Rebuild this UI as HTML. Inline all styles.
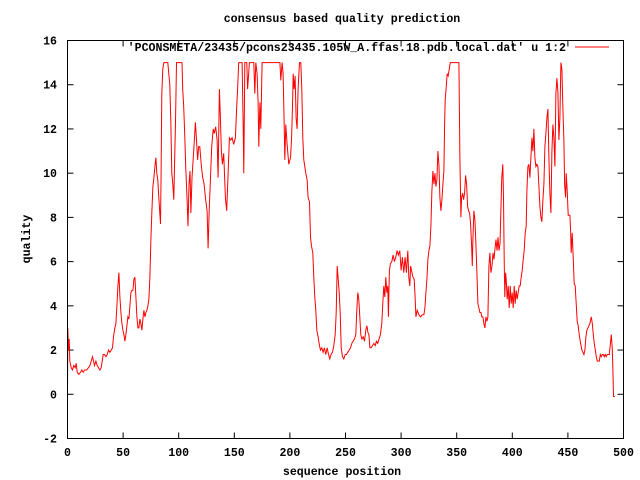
<!DOCTYPE html>
<html><head><meta charset="utf-8"><style>
html,body{margin:0;padding:0;background:#fff;}
svg{display:block;}
text{font-family:"Liberation Mono",monospace;font-size:11.6px;font-weight:bold;fill:#000;}
</style></head><body>
<svg id="chart" width="640" height="480" viewBox="0 0 640 480">
<rect width="640" height="480" fill="#fff"/>
<text x="342" y="22" text-anchor="middle">consensus based quality prediction</text>
<text x="342" y="475" text-anchor="middle">sequence position</text>
<text x="30" y="239" text-anchor="middle" transform="rotate(-90 30 239)">quality</text>
<g id="axes"></g>
<g id="series"></g>
<g>
<text x="566" y="51" text-anchor="end">'PCONSMETA/23435/pcons23435.105W_A.ffas.18.pdb.local.dat' u 1:2</text>
<line x1="575" y1="47" x2="609" y2="47" stroke="#f00" stroke-width="1"/>
</g>
<rect x="67.5" y="40.5" width="556" height="398" fill="none" stroke="#000" stroke-width="1"/>
</svg>
<script>
const xTicks=[0,50,100,150,200,250,300,350,400,450,500];
const yTicks=[-2,0,2,4,6,8,10,12,14,16];
const posX=[0,0.3,0.9,1.5,2.1,3.3,4.5,5.7,6.9,7.8,8.7,10.2,11.7,12.9,14.1,15.3,17.1,18.9,20.1,21.3,22.5,23.4,24.3,25.5,26.7,27.9,29.1,30.3,31.2,32.1,33.3,34.5,35.7,36.9,38.1,39.3,40.5,41.4,42.6,43.5,44.4,45.3,46.2,47.1,48,48.9,49.8,50.7,51.6,52.5,53.4,54.3,55.2,56.1,57,57.9,58.8,59.7,60.6,61.5,62.4,63.3,64.2,65.1,66,66.9,67.8,68.7,69.6,70.5,71.4,72.3,73.2,74.1,75,75.9,76.8,77.7,78.6,79.5,80.3,81.2,82.1,83,83.6,84.2,84.8,85.7,86.6,90.2,91.1,92,92.9,93.8,94.7,95.6,96.2,97.1,98,
103,103.6,104.5,105.4,106.3,107.5,108.4,109.3,110.2,111,112,113.5,115,116,117,118,119,120.4,121.6,122.8,124,125.5,126.4,127.3,128.5,129.7,131,132,133.3,134.5,135.4,136.6,137.5,138.4,139.3,140.5,142,143.2,144.4,145.6,146.8,148,149.5,151,152.2,153,154,157,158,158.5,159.4,161.2,162,163.6,167.5,168.4,169.3,170.5,171.4,172,173,173.8,175,191,191.8,193,193.9,194.8,195.4,196.3,197.5,199,
200.5,201.4,202.3,203,203.8,204.7,205.6,206.5,207.4,208.6,209.8,210.7,211.6,212.5,213.4,214.3,215.5,216.4,217.6,218.5,219.4,220.6,221.5,222.4,223.3,224.2,225.4,226.6,227.5,228.7,229.9,231,232.3,233.5,234.7,235.9,237,238.3,239.5,240.7,241.6,242.5,243.4,244.3,245.2,246.1,247.3,248.5,249.7,250.9,252,253.3,254.5,255.7,256.9,258,259.3,260.2,261.1,262,262.9,263.8,264.7,265.9,267.1,268.3,269.2,270.1,271,271.9,273,274.3,275.5,276.7,277.8,279,280.2,281.4,282.6,283.5,284.4,285.3,286.2,287.1,288,288.6,289.5,290.4,291.6,292.8,294,295.2,296.4,297.6,298.8,300,301.2,302.4,303.6,304.8,306,306.9,307.8,
308.5,310.6,311.8,312.7,313.3,314.5,316,317.5,319,320.5,321.4,322.3,323.2,324.1,325,325.9,326.8,327.7,328.6,329.5,330.4,331.3,332.2,333.1,334,334.9,335.8,336.7,337.6,338.5,339.1,339.7,340.6,341.5,342.4,343.3,344.2,352,352.9,353.8,354.4,355.3,356.2,357.1,358,358.9,359.8,360.7,361.6,362.5,363.4,364,364.6,365.5,366.4,367.3,368.2,369.1,370,370.9,371.8,372.7,373.6,374.5,375.4,376.3,377.2,378.1,379,379.9,380.8,381.7,382.6,383.5,384.4,385.3,386.2,387.1,388,388.9,389.7,390.6,391.5,392.1,392.7,393.3,394,394.5,395.4,396.3,397.2,398.1,399,399.9,400.8,401.7,402.6,403.5,404.4,405.3,406.2,407.1,408,408.9,409.8,410.7,411.6,
412.5,413.1,414,414.9,415.8,416.7,417.6,418.5,419.4,420.3,421.2,422.1,423,423.9,424.8,425.7,426.6,427.5,428.4,429.3,430.2,431.1,432,432.9,433.8,434.7,435.6,436.5,437.4,438.3,439.2,440.1,441,441.9,442.8,443.7,444.6,445.5,446.4,447,447.9,448.5,449.4,450.3,451.8,452.4,453,453.9,454.8,455.7,456.6,457.5,458.4,459.3,460.2,461.4,462.6,463.5,464.4,465.3,466.2,467.1,468,468.9,469.8,471,471.9,472.8,473.7,474.6,475.5,476.4,477.3,478.2,479.1,480,480.9,481.8,482.7,483.5,484.4,485.3,486.2,487.2,488,489,489.8,490.4,491,492.2];
const quality=[-0.05,3,2,2.5,1.5,1.2,1.1,1.3,1.2,1.4,1,0.9,1,1.1,1,1.1,1.1,1.2,1.3,1.5,1.7,1.5,1.3,1.5,1.3,1.2,1.1,1.2,1.5,1.8,1.8,1.7,1.8,2,1.9,2,2.1,2.6,3,3.2,4,4.9,5.5,4.4,3.7,3.2,2.9,2.7,2.4,2.7,3.1,3.5,3.4,4,4.6,4.7,4.7,5.2,5.3,4.4,3.5,3,3,3.4,3.2,2.9,3.4,3.8,3.5,3.7,3.8,4,4.3,5.3,7,8.3,9.4,9.8,10.3,10.7,10,9.7,8.9,8.2,7.7,10,13.6,14.7,15,15,14.5,14,12.4,10,9.5,8.8,10.3,12.3,15,
15,13.8,13,11.8,10.3,8.9,7.6,9.5,10.1,8.2,9.8,11,12.3,11.5,10.6,11.2,11.2,10.3,9.8,9.5,8.9,8.3,6.6,8.2,9.7,11.2,12,11.8,12.1,11.5,9.8,13.8,12.5,11,10.4,10.9,8.9,8.3,10,11.6,11.5,11.6,11.3,11.6,13,13.8,15,15,12.1,10,15,15,13.8,15,15,13.6,15,14.5,13.2,11.2,13.2,12,15,15,14.2,15,14.5,12.4,10.6,12.2,11.3,10.4,
10.7,11.5,13,14.5,13.8,14.4,12.5,12,13.8,15,15,13.8,11.6,10.6,10.3,10,9.7,8.9,8.7,7.1,6.7,6.4,5.3,4.4,3.8,2.9,2.6,2.2,2,2.1,1.9,2.1,1.8,2.1,1.8,1.6,1.8,1.9,2.2,2.7,3.7,5.8,5.2,4.6,3.7,2.1,1.7,1.6,1.8,1.8,1.9,2,2.1,2.3,2.4,2.5,2.7,3.8,4.6,4.3,3.5,2.7,2.5,2.6,2.4,2.9,3.1,2.8,2.7,2.1,2.1,2.2,2.3,2.2,2.4,2.3,2.5,2.7,3.2,4.1,4.9,4.4,5.3,4.6,4.9,3.5,5.6,5.9,6,6.3,6,6.2,6.5,6.3,6.5,5.6,6.2,5.5,6.2,5.5,6.5,5.3,4.9,
5.8,5.3,5.2,4.3,3.5,3.8,3.6,3.5,3.6,3.6,3.9,4.6,5.2,6.1,6.5,6.7,7.6,9.2,10.1,9.5,10,9.4,9.7,11,10.4,8.9,8.3,8.8,9.5,10.1,12.2,13.3,13.9,14.5,14.4,14.7,15,15,10.7,8,8.9,9.1,8.8,9.1,9.9,9.5,8.5,8.3,8.2,7.7,6.7,5.8,7,8.3,7.9,6.8,5.5,4.1,3.9,3.7,3.7,3.5,3.5,3.2,3,3.5,3.3,3.5,5.8,6.4,5.5,5.8,6.4,6.1,6.6,7,6.5,7.1,6.5,6.8,8.2,9.8,10.4,8.9,6.1,4.4,5.5,5.2,4.3,4.9,3.9,4.9,4.1,4.6,3.9,4.9,4.1,4.7,4.3,4.6,4.9,4.9,5.3,5.6,6.1,6.5,7.3,
7.6,9.2,10.3,10.4,9.8,10.7,11.6,11,12,10.7,10.3,10.4,10.3,9.4,8.5,8,7.8,8.8,9.5,11.2,11.8,12.5,12.9,10.7,9.1,8.2,11,12.2,11.6,10.3,13.6,14.3,13.7,11.5,12.5,15,14.7,12.9,11.5,9.5,8.9,10,9.2,8.1,8.1,7.4,6.4,7.3,6.2,5,4.9,4.1,3.3,3.1,2.7,2.3,2,1.9,1.8,2,2.6,2.9,3,3.1,3.2,3.5,3.2,2.7,2.3,2,1.7,1.5,1.5,1.5,1.8,1.7,1.8,1.8,1.7,1.8,1.7,1.8,1.8,1.8,2.2,2.7,2.1,1.3,-0.1,-0.1];
const X0=67.5,X1=623.5,Y0=438.5,Y1=40.5;
const xMin=0,xMax=500,yMin=-2,yMax=16;
function sx(v){return X0+(v-xMin)/(xMax-xMin)*(X1-X0);}
function sy(v){return Y0-(v-yMin)/(yMax-yMin)*(Y0-Y1);}
const NS='http://www.w3.org/2000/svg';
const axes=document.getElementById('axes');
xTicks.forEach(t=>{
  const x=sx(t);
  [[Y0,Y0-6],[Y1,Y1+6]].forEach(p=>{
    const l=document.createElementNS(NS,'line');
    l.setAttribute('x1',x);l.setAttribute('x2',x);l.setAttribute('y1',p[0]);l.setAttribute('y2',p[1]);
    l.setAttribute('stroke','#000');
    
    
    axes.appendChild(l);
  });
  const tx=document.createElementNS(NS,'text');
  tx.setAttribute('x',x);tx.setAttribute('y',456);tx.setAttribute('text-anchor','middle');
  tx.textContent=t;
  
  
  axes.appendChild(tx);
});
yTicks.forEach(t=>{
  const y=sy(t);
  [[X0,X0+6],[X1,X1-6]].forEach(p=>{
    const l=document.createElementNS(NS,'line');
    l.setAttribute('x1',p[0]);l.setAttribute('x2',p[1]);l.setAttribute('y1',y);l.setAttribute('y2',y);
    l.setAttribute('stroke','#000');
    
    
    axes.appendChild(l);
  });
  const tx=document.createElementNS(NS,'text');
  tx.setAttribute('x',57);tx.setAttribute('y',y+4);tx.setAttribute('text-anchor','end');
  tx.textContent=t;
  
  
  axes.appendChild(tx);
});
const pts=posX.map((x,i)=>sx(x).toFixed(1)+','+sy(quality[i]).toFixed(1)).join(' ');
const pl=document.createElementNS(NS,'polyline');
pl.setAttribute('points',pts);
pl.setAttribute('fill','none');pl.setAttribute('stroke','#f00');pl.setAttribute('stroke-width','1');


document.getElementById('series').appendChild(pl);
</script>
</body></html>
